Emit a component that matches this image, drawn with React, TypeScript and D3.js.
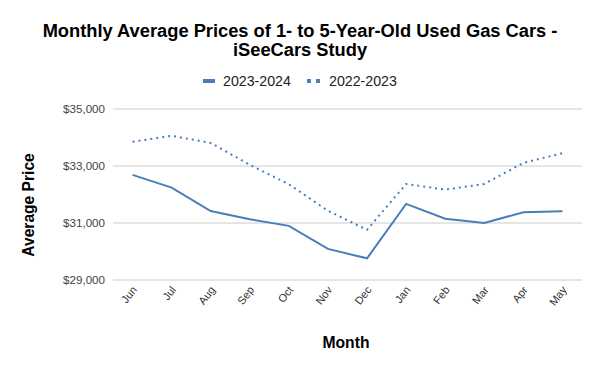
import React from 'react'
import { scaleBand, scaleLinear, line } from 'd3'

const months = ['Jun', 'Jul', 'Aug', 'Sep', 'Oct', 'Nov', 'Dec', 'Jan', 'Feb', 'Mar', 'Apr', 'May']
const prices2324 = [32690, 32240, 31420, 31130, 30900, 30090, 29760, 31670, 31150, 31000, 31380, 31410]
const prices2223 = [33850, 34060, 33810, 33040, 32360, 31430, 30760, 32370, 32170, 32370, 33110, 33450]
const yTicks = [29000, 31000, 33000, 35000]

const W = 600
const H = 371
const color = '#4a7ebb'
const font = 'Liberation Sans, Arial, sans-serif'

const App = () => {
    const x = scaleBand<string>().domain(months).range([113, 582])
    const y = scaleLinear().domain([29000, 35000]).range([280, 109])

    const linea = line<number>()
        .x((v, i) => (x(months[i]) as number) + x.bandwidth() / 2)
        .y(v => y(v))

    return (
        <svg width={W} height={H} style={{ position: 'absolute', left: 0, top: 0 }} fontFamily={font}>
            <rect width={W} height={H} fill="#fff" />
            <text x={300} y={37} textAnchor="middle" fontSize={18.3} fontWeight="bold">Monthly Average Prices of 1- to 5-Year-Old Used Gas Cars -</text>
            <text x={300} y={56} textAnchor="middle" fontSize={18.3} fontWeight="bold">iSeeCars Study</text>

            {/* leyenda */}
            <rect x={203} y={79} width={12} height={4} fill={color} />
            <text x={223} y={86} fontSize={14.2} fill="#222">2023-2024</text>
            <rect x={307} y={79} width={4} height={4} fill={color} />
            <rect x={316} y={79} width={4} height={4} fill={color} />
            <text x={329} y={86} fontSize={14.2} fill="#222">2022-2023</text>

            {yTicks.map(t => (
                <g key={t}>
                    <line x1={113} x2={582} y1={y(t)} y2={y(t)} stroke="#ccc" strokeWidth={1} />
                    <text x={105} y={y(t) + 4} textAnchor="end" fontSize={11.6} fill="#444">
                        ${t.toLocaleString('en-US')}
                    </text>
                </g>
            ))}

            {months.map(m => {
                const cx = (x(m) as number) + x.bandwidth() / 2
                return (
                    <text key={m} transform={`translate(${cx + 5},${290}) rotate(-52)`} textAnchor="end" fontSize={11} fill="#333">
                        {m}
                    </text>
                )
            })}

            <path d={linea(prices2223) || ''} fill="none" stroke={color} strokeWidth={2} strokeDasharray="2,4" />
            <path d={linea(prices2324) || ''} fill="none" stroke={color} strokeWidth={2} />

            <text x={346} y={348} textAnchor="middle" fontSize={15.7} fontWeight="bold">Month</text>
            <text transform="translate(34,205) rotate(-90)" textAnchor="middle" fontSize={15.6} fontWeight="bold">Average Price</text>
        </svg>
    )
}

export default App
